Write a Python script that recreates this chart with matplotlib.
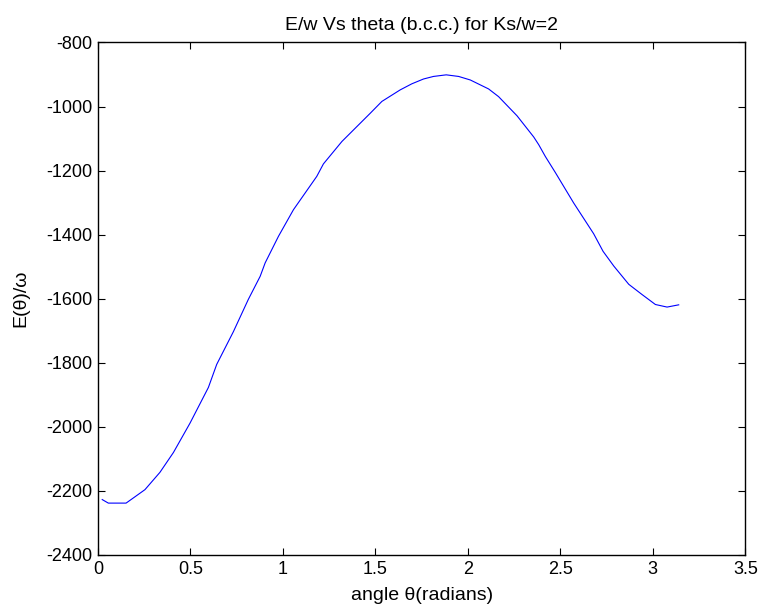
import matplotlib
matplotlib.use("Agg")
import matplotlib.pyplot as plt

theta = [0.023, 0.056, 0.152, 0.191, 0.254, 0.335, 0.408, 0.498, 0.597, 0.642, 0.732,
         0.813, 0.877, 0.904, 0.976, 1.057, 1.183, 1.219, 1.319, 1.472, 1.535, 1.634,
         1.697, 1.760, 1.814, 1.883, 1.950, 2.013, 2.112, 2.166, 2.266, 2.356, 2.383,
         2.419, 2.473, 2.572, 2.680, 2.731, 2.789, 2.870, 2.942, 3.014, 3.077, 3.140]
energy = [-2227, -2238, -2238, -2222, -2196, -2142, -2080, -1988, -1877, -1805, -1703,
          -1602, -1530, -1488, -1405, -1322, -1218, -1179, -1109, -1021, -984, -948,
          -929, -914, -906, -901, -906, -917, -945, -969, -1029, -1095, -1119,
          -1156, -1206, -1301, -1397, -1452, -1498, -1555, -1587, -1618, -1626, -1619]

xticks = [0, 0.5, 1, 1.5, 2, 2.5, 3, 3.5]
xticklabels = ["0", "0.5", "1", "1.5", "2", "2.5", "3", "3.5"]
yticks = [-2400, -2200, -2000, -1800, -1600, -1400, -1200, -1000, -800]
yticklabels = ["-2400", "-2200", "-2000", "-1800", "-1600", "-1400", "-1200", "-1000", "-800"]

plt.rcParams['font.family'] = ['Liberation Sans', 'DejaVu Sans']
fig = plt.figure(figsize=(7.63, 6.14), dpi=100)
ax = fig.add_axes([0.1284, 0.0961, 0.8484, 0.8347])
ax.plot(theta, energy, color=(0, 0, 1), linewidth=0.8)
ax.set_xlim(0, 3.5)
ax.set_ylim(-2400, -800)
ax.set_xticks(xticks)
ax.set_xticklabels(xticklabels)
ax.set_yticks(yticks)
ax.set_yticklabels(yticklabels)
ax.tick_params(direction='in', top=True, right=True, labelsize=13, length=5, width=0.8, pad=4)
for s in ax.spines.values():
    s.set_linewidth(1.0)
ax.set_title("E/w Vs theta (b.c.c.) for Ks/w=2", fontsize=14, pad=9)
ax.set_xlabel("angle \u03b8(radians)", fontsize=14, labelpad=7)
ax.set_ylabel("E(\u03b8)/\u03c9", fontsize=14, labelpad=12)
fig.savefig("out.png", dpi=100)
